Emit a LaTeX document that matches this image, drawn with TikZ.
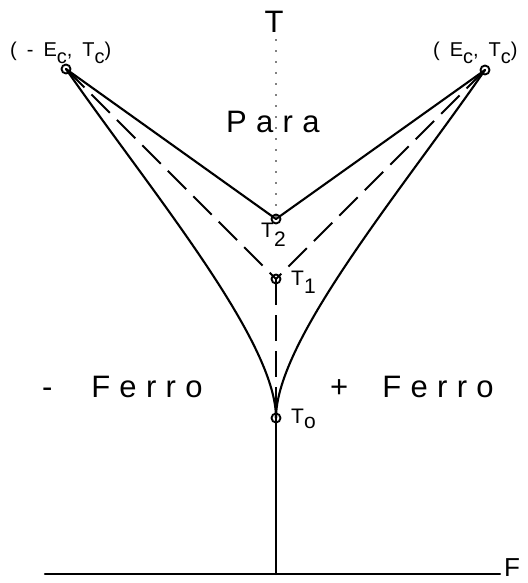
\documentclass[tikz,border=0pt]{standalone}
\usepackage{fontspec}
\usetikzlibrary{positioning}
\newfontfamily\plotfont[LetterSpace=30]{Liberation Sans}
\newfontfamily\plotfontsm[LetterSpace=50]{Liberation Sans}
\newfontfamily\plotplain{Liberation Sans}
\newcommand\lowsub[2][7pt]{\lower#1\hbox{#2}}

\begin{document}
\begin{tikzpicture}[x=1pt,y=-1pt,line cap=round,line join=round,
  pt/.style={circle,draw,line width=1.9pt,minimum size=9pt,inner sep=0pt},
  solidln/.style={line width=2.1pt},
  dashln/.style={line width=2.1pt,line cap=butt,dash pattern=on 26pt off 10pt},
  dotln/.style={line width=1.8pt,dash pattern=on 0pt off 11pt},
  big/.style={font=\plotfont\fontsize{31}{31}\selectfont,inner sep=0pt},
  mid/.style={font=\plotfontsm\fontsize{21}{21}\selectfont,inner sep=0pt},
  small/.style={font=\plotfontsm\fontsize{20}{20}\selectfont,inner sep=0pt}]
\useasboundingbox (0,0) rectangle (527,583);
% points of the phase diagram
\node[pt] (cl) at (66,69) {};
\node[pt] (cr) at (485,70) {};
\node[pt] (t2) at (276,219) {};
\node[pt] (t1) at (276,279) {};
\node[pt] (t0) at (276,418) {};
\coordinate (org) at (276,574);
\coordinate (fa) at (45,574);
\coordinate (fb) at (500,574);
% axes
\node[big,anchor=base] (tax) at (274,33) {T};
\node[anchor=base west,inner sep=0pt,font=\plotplain\fontsize{26}{26}\selectfont] (fax) at (504,576) {F};
\draw[solidln] (fa) -- (fb);
\draw[solidln] (t0.center) -- (org);
\draw[dotln] (276,40) -- (t2.center);
% lines to T2 and T1
\draw[solidln] (cl.center) -- (t2.center) -- (cr.center);
\draw[dashln] (cl.center) -- (t1.center);
\draw[dashln] (cr.center) -- (t1.center);
\draw[dashln] (t1.center) -- (t0.center);
% cusp
\draw[solidln] (cl.center) .. controls (150,190) and (276,340) .. (t0.center);
\draw[solidln] (cr.center) .. controls (402,190) and (276,340) .. (t0.center);
% labels
\node[small,anchor=base west] (lcl) at (10,57) {(-E\lowsub{c},T\lowsub{c})};
\node[small,anchor=base west] (lcr) at (433,57) {(E\lowsub{c},T\lowsub{c})};
\node[mid,anchor=base west] (lt2) at (261,237) {T\lowsub[9pt]{2}};
\node[mid,anchor=base west] (lt1) at (291,285) {T\lowsub[8pt]{1}};
\node[mid,anchor=base west] (lt0) at (291,423) {T\lowsub[5pt]{o}};
\node[big,anchor=base west] (para) at (226,132) {Para};
\node[big,anchor=base west] (mferro) at (42,397) {-\hspace{1.25em}Ferro};
\node[big,anchor=base west] (pferro) at (330,397) {+\hspace{1.1em}Ferro};
\end{tikzpicture}
\end{document}
